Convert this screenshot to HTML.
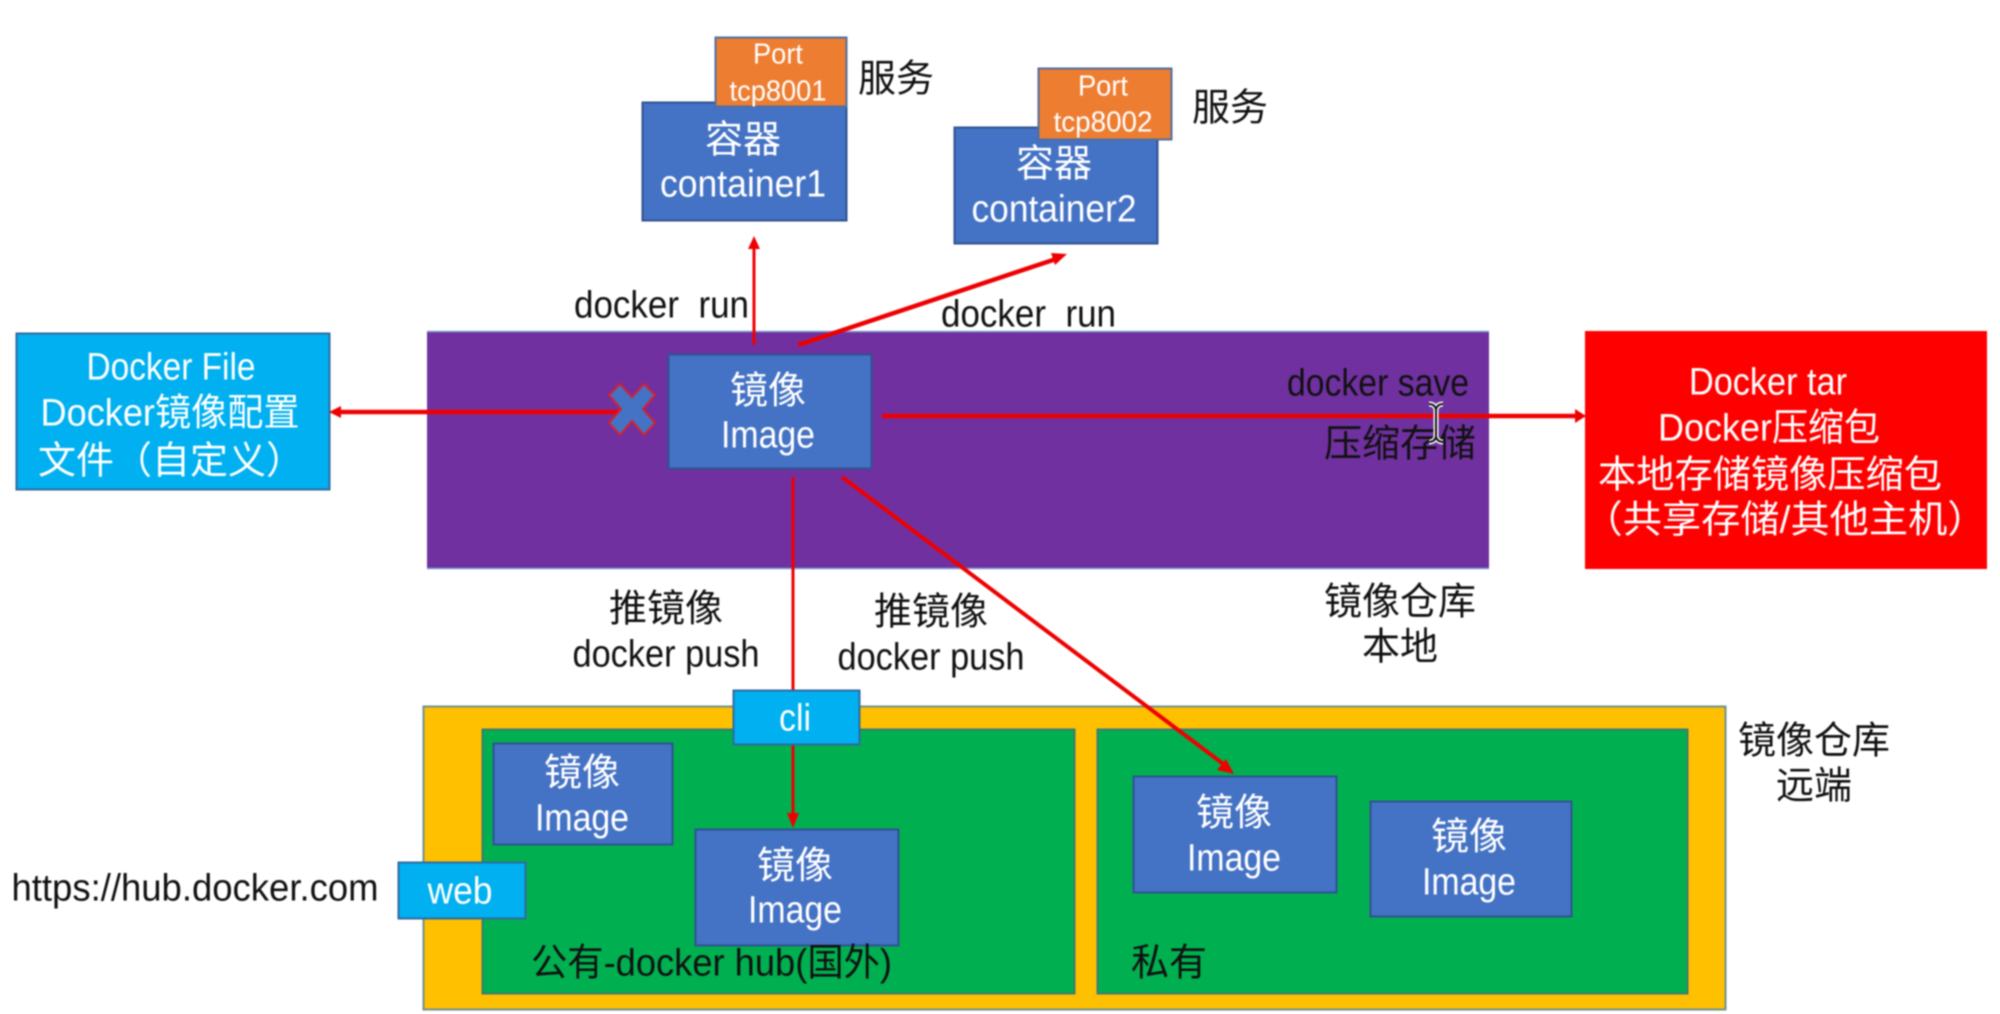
<!DOCTYPE html>
<html><head><meta charset="utf-8"><style>
html,body{margin:0;padding:0;background:#fff;width:2000px;height:1014px;overflow:hidden}
svg{display:block;filter:blur(.7px)}
text{font-family:"Liberation Sans","Noto Sans CJK SC",sans-serif;dominant-baseline:central;text-anchor:middle;font-size:38px;transform:translate(0,1.5px)}
.w{fill:#fff}.k{fill:#111}
.s{font-size:29px}
rect{stroke-width:2}
.b{fill:#4472c4;stroke:#2f528f}
.c{fill:#00b0f0;stroke:#2f6a9f}
.g{fill:#00b050;stroke:#3d7a70}
.a{stroke:#ee0000;fill:none}
.h{fill:#ee0000}
</style></head><body>
<svg width="2000" height="1014" viewBox="0 0 2000 1014" xmlns="http://www.w3.org/2000/svg">
<rect width="2000" height="1014" fill="#fff" style="stroke:none"/>

<!-- containers -->
<rect class="b" x="642.5" y="102.5" width="204" height="118"/>
<rect x="715.5" y="37.5" width="131" height="69" fill="#ed7d31" stroke="#4f6f9f"/>
<text class="s w" x="778" y="53" textLength="50" lengthAdjust="spacingAndGlyphs">Port</text>
<text class="s w" x="778" y="90" textLength="97" lengthAdjust="spacingAndGlyphs">tcp8001</text>
<text class="w" x="743" y="139">容器</text>
<text class="w" x="743" y="183" textLength="166" lengthAdjust="spacingAndGlyphs">container1</text>
<text class="k" x="896" y="78">服务</text>

<rect class="b" x="954.5" y="127.5" width="203" height="116"/>
<rect x="1038.5" y="68.5" width="133" height="71" fill="#ed7d31" stroke="#4f6f9f"/>
<text class="s w" x="1103" y="85" textLength="50" lengthAdjust="spacingAndGlyphs">Port</text>
<text class="s w" x="1103" y="121" textLength="99" lengthAdjust="spacingAndGlyphs">tcp8002</text>
<text class="w" x="1054" y="163">容器</text>
<text class="w" x="1054" y="208" textLength="165" lengthAdjust="spacingAndGlyphs">container2</text>
<text class="k" x="1230" y="107">服务</text>

<!-- purple local -->
<rect x="427" y="331" width="1062" height="238" fill="#7030a0" style="stroke:none"/>
<path d="M427 331.5H1489M427 568.5H1489" stroke="#7f9fd0" stroke-width="1.5"/>
<!-- red -->
<rect x="1585" y="331" width="402" height="238" fill="#ff0000" style="stroke:none"/>
<text class="w" x="1768" y="381" textLength="158" lengthAdjust="spacingAndGlyphs">Docker tar</text>
<text class="w" x="1769" y="427" textLength="222" lengthAdjust="spacingAndGlyphs">Docker压缩包</text>
<text class="w" x="1770" y="474" textLength="344" lengthAdjust="spacingAndGlyphs">本地存储镜像压缩包</text>
<text class="w" x="1785" y="519" textLength="403" lengthAdjust="spacingAndGlyphs">（共享存储/其他主机）</text>

<!-- docker file -->
<rect class="c" x="16.5" y="333.5" width="313" height="156"/>
<text class="w" x="171" y="366" textLength="169" lengthAdjust="spacingAndGlyphs">Docker File</text>
<text class="w" x="170" y="412" textLength="259" lengthAdjust="spacingAndGlyphs">Docker镜像配置</text>
<text class="w" x="171" y="460" textLength="266" lengthAdjust="spacingAndGlyphs">文件（自定义）</text>

<!-- image -->
<rect class="b" x="668.5" y="354.5" width="203" height="114"/>
<text class="w" x="768" y="390">镜像</text>
<text class="w" x="768" y="434" textLength="94" lengthAdjust="spacingAndGlyphs">Image</text>

<text class="k" x="1378" y="382" textLength="182" lengthAdjust="spacingAndGlyphs">docker save</text>
<text class="k" x="1400" y="443">压缩存储</text>
<text class="k" x="661.5" y="304" textLength="175" lengthAdjust="spacingAndGlyphs" xml:space="preserve">docker  run</text>
<text class="k" x="1028.5" y="313" textLength="175" lengthAdjust="spacingAndGlyphs" xml:space="preserve">docker  run</text>

<text class="k" x="666" y="608">推镜像</text>
<text class="k" x="666" y="653" textLength="187" lengthAdjust="spacingAndGlyphs">docker push</text>
<text class="k" x="931" y="611">推镜像</text>
<text class="k" x="931" y="656" textLength="187" lengthAdjust="spacingAndGlyphs">docker push</text>
<text class="k" x="1400" y="601">镜像仓库</text>
<text class="k" x="1400" y="646">本地</text>

<!-- remote repo -->
<rect x="423.5" y="706.5" width="1302" height="303" fill="#ffc000" stroke="#6f8f8f"/>
<rect class="g" x="482.5" y="729.5" width="592" height="264"/>
<rect class="g" x="1097.5" y="729.5" width="590" height="264"/>

<rect class="b" x="493.5" y="743.5" width="179" height="101"/>
<text class="w" x="582" y="772">镜像</text>
<text class="w" x="582" y="817" textLength="94" lengthAdjust="spacingAndGlyphs">Image</text>
<rect class="b" x="695.5" y="829.5" width="203" height="116"/>
<text class="w" x="795" y="865">镜像</text>
<text class="w" x="795" y="909" textLength="94" lengthAdjust="spacingAndGlyphs">Image</text>
<rect class="b" x="1133.5" y="776.5" width="203" height="116"/>
<text class="w" x="1234" y="812">镜像</text>
<text class="w" x="1234" y="857" textLength="94" lengthAdjust="spacingAndGlyphs">Image</text>
<rect class="b" x="1370.5" y="801.5" width="201" height="115"/>
<text class="w" x="1469" y="836">镜像</text>
<text class="w" x="1469" y="881" textLength="94" lengthAdjust="spacingAndGlyphs">Image</text>

<text class="k" x="711.5" y="962" textLength="361" lengthAdjust="spacingAndGlyphs">公有-docker hub(国外)</text>
<text class="k" x="1169" y="962">私有</text>
<text class="k" x="1814" y="740">镜像仓库</text>
<text class="k" x="1814" y="785">远端</text>

<!-- arrows -->
<path class="a" stroke-width="3" d="M754 345V245"/>
<path class="h" d="M754 236l-6 13h12z"/>
<path class="a" stroke-width="4.5" d="M798 345L1056 259"/>
<path class="h" d="M1067 254l-16-1 4 12z"/>
<path class="a" stroke-width="4.5" d="M622 412H338"/>
<path class="h" d="M329 412l12-6v12z"/>
<path class="a" stroke-width="4.5" d="M882 416H1576"/>
<path class="h" d="M1586 416l-11-7v14z"/>
<path class="a" stroke-width="3" d="M793 477V691"/>
<path class="a" stroke-width="3" d="M793 745V816"/>
<path class="h" d="M793 828l-6-15h12z"/>
<path class="a" stroke-width="4" d="M842 477L1226 766"/>
<path class="h" d="M1234 774l-8-15-9 11z"/>

<!-- cli & web -->
<rect class="c" x="733.5" y="690.5" width="126" height="54"/>
<text class="w" x="795" y="717" textLength="32" lengthAdjust="spacingAndGlyphs">cli</text>
<rect class="c" x="398.5" y="862.5" width="127" height="56"/>
<text class="w" x="460" y="890" textLength="65" lengthAdjust="spacingAndGlyphs">web</text>
<text class="k" x="195" y="887" textLength="367" lengthAdjust="spacingAndGlyphs">https://hub.docker.com</text>

<!-- X mark -->
<polygon points="620,384 632,397 644,384 655,395 643,409 655,423 644,435 632,421 620,435 609,423 621,409 609,395" fill="#4472c4" stroke="#d81f2c" stroke-width="2"/>

<!-- I-beam cursor -->
<path d="M1429 404c4 0 6 2 7 5c1-3 3-5 7-5M1436 409V436M1429 442c4 0 6-2 7-5c1 3 3 5 7 5" fill="none" stroke="#fff" stroke-width="5"/>
<path d="M1429 404c4 0 6 2 7 5c1-3 3-5 7-5M1436 409V436M1429 442c4 0 6-2 7-5c1 3 3 5 7 5" fill="none" stroke="#111" stroke-width="2"/>
</svg>
</body></html>
